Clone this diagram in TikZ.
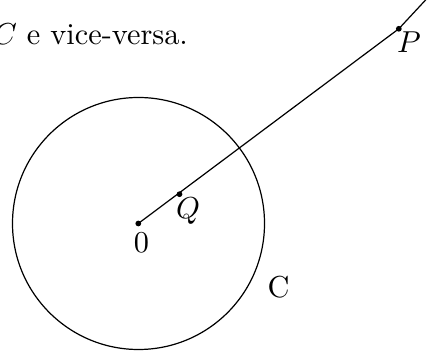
\documentclass[tikz,border=0pt]{standalone}
\begin{document}
\begin{tikzpicture}[x=0.33pt,y=-0.33pt,
  pt/.style={circle,fill=black,inner sep=0pt,minimum size=1.9pt},
  lbl/.style={inner sep=0pt}]
\useasboundingbox (0,0) rectangle (428,354);
\node[lbl,anchor=base east] (txt) at (188.5,45) {$C$ e vice-versa.};
\node[draw,circle,minimum size=252*0.33pt,inner sep=0pt,line width=0.4pt] (circ) at (138.5,223.5) {};
\node[pt] (O) at (138.3,223.5) {};
\node[pt] (Q) at (179.5,194.2) {};
\node[pt] (P) at (398.8,28.8) {};
\coordinate (E) at (440,-15.5);
\draw (O.center) -- (P.center) -- (E);
\node[lbl] (l0) at (141.5,243) {$0$};
\node[lbl] (lQ) at (188,211) {$Q$};
\node[lbl] (lP) at (409,42) {$P$};
\node[lbl] (lC) at (278.5,287) {C};
\end{tikzpicture}
\end{document}
